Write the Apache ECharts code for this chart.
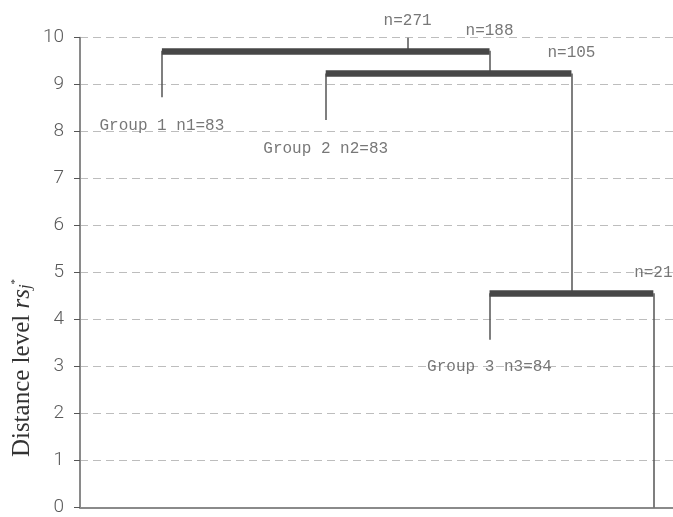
<!DOCTYPE html>
<html>
<head>
<meta charset="utf-8">
<title>Dendrogram</title>
<script src="https://cdn.jsdelivr.net/npm/echarts@6/dist/echarts.min.js"></script>
<style>
  html, body { margin: 0; padding: 0; background: #fff; }
  #chart { width: 673px; height: 517px; }
</style>
</head>
<body>
<div id="chart"></div>
<script>
// Leaves (final groups): horizontal position and the distance level where each stem stops
const leafNames = ['Group 1 n1=83', 'Group 2 n2=83', 'Group 3 n3=84', 'n=21'];
const leafX = [0.5, 1.5, 2.5, 3.5];
const leafBase = [8.73, 8.25, 3.57, 0];
const leafLabelY = [8.12, 7.64, 3.0, 5.0];

// Merges, in order of increasing distance level; children index leaves 0..3 then merges 4..
const mergeNames = ['n=105', 'n=188', 'n=271'];
const mergeX = [3.0, 2.5, 2.0];
const mergeHeight = [4.56, 9.24, 9.72];
const mergeChildren = [[2, 3], [1, 4], [0, 5]];
const mergeLabelY = [9.68, 10.14, 10.36];

// Y axis ticks
const yTicks = [0, 1, 2, 3, 4, 5, 6, 7, 8, 9, 10];
const yTop = 10;

// Node table: leaves then merges
const nodeX = leafX.concat(mergeX);
const nodeH = leafBase.concat(mergeHeight);
const parentH = new Array(nodeX.length).fill(yTop);
mergeChildren.forEach((ch, i) => ch.forEach(c => { parentH[c] = mergeHeight[i]; }));

const stems = nodeX.map((x, i) => ({ coords: [[x, nodeH[i]], [x, parentH[i]]] }));
const bars = mergeChildren.map((ch, i) => ({
  coords: [[nodeX[ch[0]], mergeHeight[i]], [nodeX[ch[1]], mergeHeight[i]]]
}));

const labels = leafNames.map((n, i) => ({ name: n, value: [leafX[i], leafLabelY[i]] }))
  .concat(mergeNames.map((n, i) => ({ name: n, value: [mergeX[i], mergeLabelY[i]] })));

const chart = echarts.init(document.getElementById('chart'), null, { renderer: 'canvas' });
chart.setOption({
  animation: false,
  backgroundColor: '#ffffff',
  grid: { left: 80, right: 0, top: 37.7, bottom: 5.3, containLabel: false },
  xAxis: {
    type: 'value', min: 0, max: 3.62,
    axisLine: { show: true, lineStyle: { color: '#8a8a8a', width: 2 } },
    axisTick: { show: false }, axisLabel: { show: false }, splitLine: { show: false }
  },
  yAxis: {
    type: 'value', min: yTicks[0], max: yTicks[yTicks.length - 1], interval: 1,
    axisLine: { show: true, lineStyle: { color: '#8a8a8a', width: 2 } },
    axisTick: { show: true, length: 6, lineStyle: { color: '#555', width: 1 } },
    axisLabel: { color: '#5a5a5a', fontSize: 19, fontWeight: 300, fontFamily: 'Roboto, "Liberation Sans", sans-serif', margin: 16 },
    splitLine: { show: true, lineStyle: { color: '#bdbdbd', width: 1, type: [8, 5] } }
  },
  graphic: [{
    type: 'text',
    x: 22, y: 368,
    rotation: Math.PI / 2,
    style: {
      text: 'Distance level {it|rs}{sub|j}{sup|*}',
      fill: '#333',
      font: '25px "Liberation Serif", serif',
      align: 'center',
      verticalAlign: 'middle',
      rich: {
        it: { fontFamily: 'Liberation Serif', fontStyle: 'italic', fontSize: 25, verticalAlign: 'top', lineHeight: 25 },
        sub: { fontFamily: 'Liberation Serif', fontStyle: 'italic', fontSize: 17, verticalAlign: 'bottom', lineHeight: 16 },
        sup: { fontFamily: 'Liberation Serif', fontSize: 11, verticalAlign: 'top', lineHeight: 12 }
      }
    }
  }],
  series: [
    {
      type: 'lines', coordinateSystem: 'cartesian2d', silent: true, z: 3,
      lineStyle: { color: '#555', width: 1.5, opacity: 1 },
      data: stems
    },
    {
      type: 'lines', coordinateSystem: 'cartesian2d', silent: true, z: 4,
      lineStyle: { color: '#474747', width: 6.5, opacity: 1, cap: 'butt' },
      data: bars
    },
    {
      type: 'scatter', silent: true, clip: false, z: 5,
      symbolSize: 0,
      data: labels,
      label: {
        show: true, position: 'inside',
        formatter: p => p.name,
        color: '#555', fontSize: 16, fontFamily: '"Liberation Mono", monospace'
      }
    }
  ]
});
</script>
</body>
</html>
